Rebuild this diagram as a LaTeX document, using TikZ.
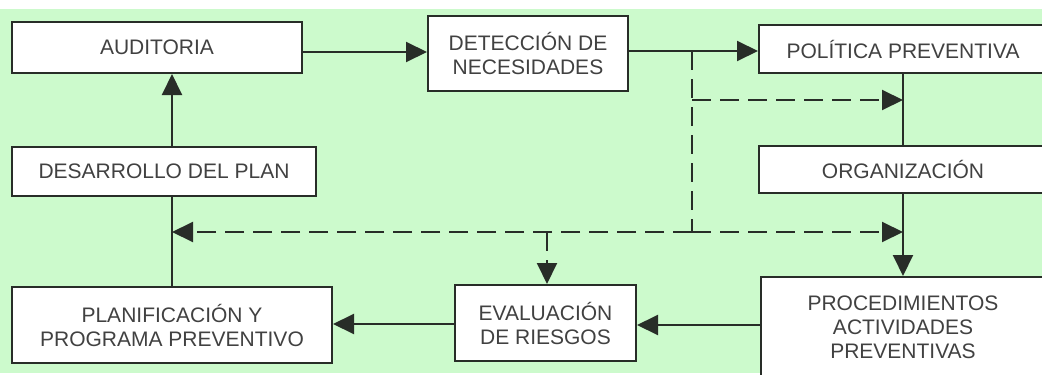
\documentclass[tikz,border=0pt]{standalone}
\usepackage{fontspec}
\setmainfont{Liberation Sans}
\usetikzlibrary{arrows.meta}
\definecolor{bggreen}{RGB}{204,250,204}
\definecolor{linec}{RGB}{40,45,40}
\definecolor{textc}{RGB}{65,65,65}
\tikzset{
  box/.style={draw=linec, line width=2pt, fill=white, inner sep=0pt, align=center,
    text=textc, font=\fontsize{21}{24}\selectfont},
  conn/.style={draw=linec, line width=2pt},
  arr/.style={conn, -{Triangle[length=21pt,width=20pt]}},
  darr/.style={arr, dash pattern=on 19pt off 9pt},
  dline/.style={conn, dash pattern=on 19pt off 9pt}
}
\begin{document}
\begin{tikzpicture}[x=1pt,y=-1pt]
\useasboundingbox (0,0) rectangle (1042,375);
\fill[white] (0,0) rectangle (1042,375);
\fill[bggreen] (0,9) rectangle (1042,373);
\begin{scope}
\clip (0,0) rectangle (1042,375);
% nodes
\node[box, minimum width=290pt, minimum height=51pt] (aud) at (157,47.5) {AUDITORIA};
\node[box, minimum width=200pt, minimum height=75pt] (det) at (528,53.5) {DETECCIÓN DE\\NECESIDADES};
\node[box, minimum width=288pt, minimum height=48pt] (pol) at (903,49) {POLÍTICA PREVENTIVA};
\node[box, minimum width=304pt, minimum height=49pt] (des) at (164,171.5) {DESARROLLO DEL PLAN};
\node[box, minimum width=288pt, minimum height=47pt] (org) at (903,169.5) {ORGANIZACIÓN};
\node[box, minimum width=320pt, minimum height=76pt] (plan) at (172,325) {PLANIFICACIÓN Y\\PROGRAMA PREVENTIVO};
\node[box, minimum width=181pt, minimum height=76pt] (eval) at (545.5,323) {EVALUACIÓN\\DE RIESGOS};
\node[box, minimum width=284pt, minimum height=100pt] (proc) at (903,327) {PROCEDIMIENTOS\\ACTIVIDADES\\PREVENTIVAS};
% junction coordinates
\coordinate (j1) at (692,51);
\coordinate (j2) at (692,100);
\coordinate (j3) at (692,232);
\coordinate (j4) at (547,232);
% solid connectors
\draw[arr] (aud.east |- 0,52) -- (det.west |- 0,52);
\draw[arr] (det.east |- j1) -- (pol.west |- j1);
\draw[conn] (pol.south) -- (org.north);
\draw[arr] (org.south) -- (proc.north);
\draw[arr] (proc.west |- 0,325) -- (eval.east |- 0,325);
\draw[arr] (eval.west |- 0,324) -- (plan.east |- 0,324);
\draw[conn] (plan.north) -- (plan.north |- des.south);
\draw[arr] (plan.north |- des.north) -- (plan.north |- aud.south);
% dashed connectors
\draw[dline] (j1) -- (j3);
\draw[darr] (j2) -- (j2 -| pol.south);
\draw[darr] (j3) -- (j3 -| pol.south);
\draw[darr] (j3) -- (j3 -| plan.north);
\draw[darr] (j4) -- (eval.north -| j4);
\end{scope}
\end{tikzpicture}
\end{document}
